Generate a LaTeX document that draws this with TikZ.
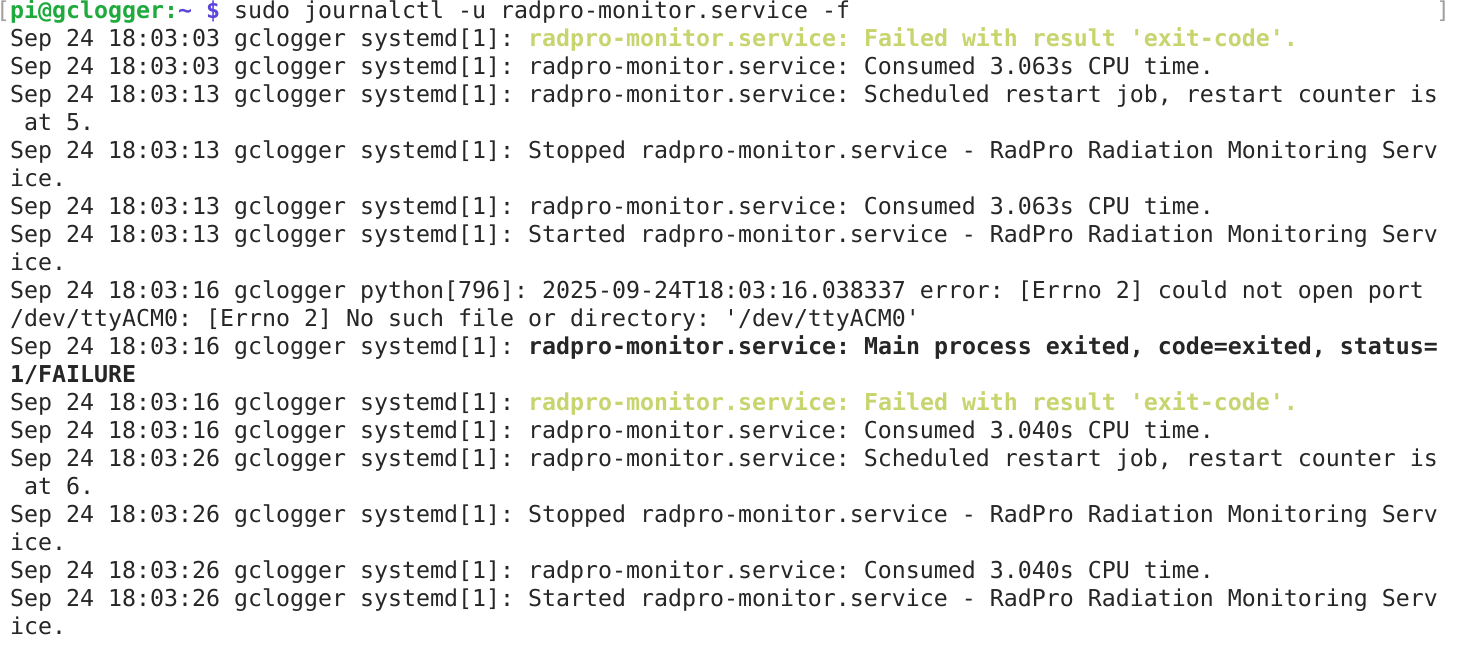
\documentclass[tikz,border=0pt]{standalone}
\usepackage{fontspec}
\newfontfamily\mono{DejaVu Sans Mono}
\definecolor{pgreen}{RGB}{30,170,60}
\definecolor{pblue}{RGB}{90,70,220}
\definecolor{warn}{RGB}{200,212,110}
\definecolor{brk}{RGB}{160,160,160}
\newcommand{\q}{\textquotesingle}
\frenchspacing
\tikzset{ln/.style={anchor=base west,inner sep=0pt,font=\mono\frenchspacing\fontsize{23.25}{28}\selectfont,text=black!85}}
\begin{document}
\begin{tikzpicture}[x=1pt,y=1pt]
\useasboundingbox (0,0) rectangle (1462,650);
\def\L#1#2{\node[ln] (l#1) at (10,{650-19-28*(#1-1)}) {#2};}
\node[ln,text=brk] (bl) at (-4,631) {[};
\node[ln,text=brk] (br) at (1436,631) {]};
\L{1}{\textcolor{pgreen}{\bfseries pi@gclogger:}\textcolor{pblue}{\bfseries\textasciitilde{} \$} sudo journalctl -u radpro-monitor.service -f}
\L{2}{Sep 24 18:03:03 gclogger systemd[1]: \textcolor{warn}{\bfseries radpro-monitor.service: Failed with result \q exit-code\q.}}
\L{3}{Sep 24 18:03:03 gclogger systemd[1]: radpro-monitor.service: Consumed 3.063s CPU time.}
\L{4}{Sep 24 18:03:13 gclogger systemd[1]: radpro-monitor.service: Scheduled restart job, restart counter is}
\L{5}{\ at 5.}
\L{6}{Sep 24 18:03:13 gclogger systemd[1]: Stopped radpro-monitor.service - RadPro Radiation Monitoring Serv}
\L{7}{ice.}
\L{8}{Sep 24 18:03:13 gclogger systemd[1]: radpro-monitor.service: Consumed 3.063s CPU time.}
\L{9}{Sep 24 18:03:13 gclogger systemd[1]: Started radpro-monitor.service - RadPro Radiation Monitoring Serv}
\L{10}{ice.}
\L{11}{Sep 24 18:03:16 gclogger python[796]: 2025-09-24T18:03:16.038337 error: [Errno 2] could not open port}
\L{12}{/dev/ttyACM0: [Errno 2] No such file or directory: \q/dev/ttyACM0\q}
\L{13}{Sep 24 18:03:16 gclogger systemd[1]: \textbf{radpro-monitor.service: Main process exited, code=exited, status=}}
\L{14}{\textbf{1/FAILURE}}
\L{15}{Sep 24 18:03:16 gclogger systemd[1]: \textcolor{warn}{\bfseries radpro-monitor.service: Failed with result \q exit-code\q.}}
\L{16}{Sep 24 18:03:16 gclogger systemd[1]: radpro-monitor.service: Consumed 3.040s CPU time.}
\L{17}{Sep 24 18:03:26 gclogger systemd[1]: radpro-monitor.service: Scheduled restart job, restart counter is}
\L{18}{\ at 6.}
\L{19}{Sep 24 18:03:26 gclogger systemd[1]: Stopped radpro-monitor.service - RadPro Radiation Monitoring Serv}
\L{20}{ice.}
\L{21}{Sep 24 18:03:26 gclogger systemd[1]: radpro-monitor.service: Consumed 3.040s CPU time.}
\L{22}{Sep 24 18:03:26 gclogger systemd[1]: Started radpro-monitor.service - RadPro Radiation Monitoring Serv}
\L{23}{ice.}
\end{tikzpicture}
\end{document}
